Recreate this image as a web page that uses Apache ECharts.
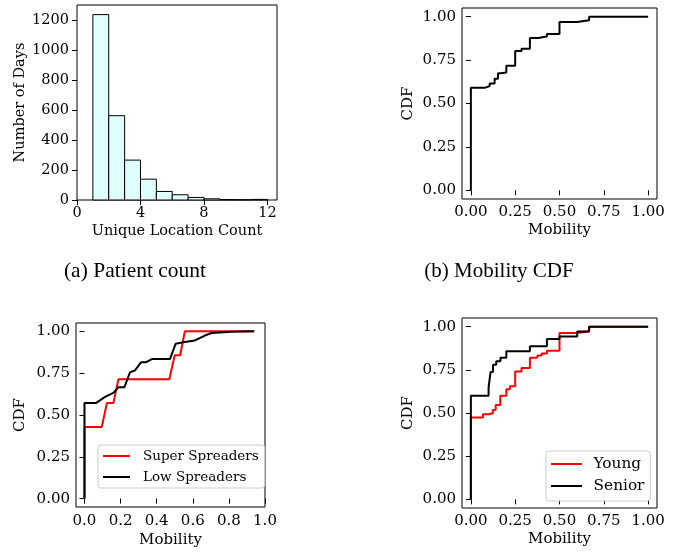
<!DOCTYPE html>
<html>
<head>
<meta charset="utf-8">
<script src="https://cdn.jsdelivr.net/npm/echarts@6/dist/echarts.min.js"></script>
<style>
  html, body { margin: 0; padding: 0; background: #fff; }
  #chart { width: 686px; height: 555px; }
</style>
</head>
<body>
<div id="chart"></div>
<script>
// ---- (a) unique locations per day (histogram) ----
const histEdges = [1, 2, 3, 4, 5, 6, 7, 8, 9, 10, 11, 12];
const histCounts = [1236, 562, 266, 139, 57, 35, 17, 8, 3, 2, 4];
const histXTicks = [0, 4, 8, 12];
const histYTicks = [0, 200, 400, 600, 800, 1000, 1200];

// ---- (b) mobility CDF, all patients (step) ----
const allX = [0, 0, 0.077, 0.106, 0.134, 0.153, 0.17, 0.2, 0.25, 0.286, 0.333, 0.379, 0.429, 0.5, 0.6, 0.667, 1.0];
const allY = [0, 0.59, 0.60, 0.615, 0.643, 0.674, 0.678, 0.718, 0.803, 0.816, 0.877, 0.886, 0.90, 0.969, 0.979, 1.0, 1.0];

// ---- (c) super vs low spreaders ----
const superX = [0, 0, 0.096, 0.124, 0.16, 0.188, 0.47, 0.50, 0.53, 0.556, 0.94];
const superY = [0, 0.429, 0.429, 0.571, 0.571, 0.714, 0.714, 0.857, 0.857, 1.0, 1.0];
const lowX = [0, 0, 0.063, 0.114, 0.16, 0.188, 0.221, 0.252, 0.28, 0.313, 0.339, 0.376, 0.474, 0.505, 0.556, 0.612, 0.667, 0.704, 0.814, 0.94];
const lowY = [0, 0.571, 0.571, 0.608, 0.632, 0.666, 0.666, 0.755, 0.767, 0.815, 0.815, 0.835, 0.835, 0.926, 0.936, 0.946, 0.975, 0.99, 0.998, 1.0];

// ---- (d) young vs senior (step) ----
const youngX = [0, 0, 0.068, 0.102, 0.124, 0.14, 0.166, 0.2, 0.22, 0.25, 0.286, 0.333, 0.375, 0.4, 0.429, 0.5, 0.6, 0.667, 1.0];
const youngY = [0, 0.474, 0.493, 0.499, 0.518, 0.547, 0.60, 0.638, 0.655, 0.74, 0.76, 0.82, 0.833, 0.845, 0.86, 0.963, 0.973, 1.0, 1.0];
const seniorX = [0, 0, 0.1, 0.111, 0.125, 0.143, 0.167, 0.2, 0.333, 0.429, 0.5, 0.6, 0.667, 1.0];
const seniorY = [0, 0.60, 0.648, 0.737, 0.78, 0.80, 0.82, 0.857, 0.886, 0.929, 0.943, 0.972, 1.0, 1.0];

const cdfTicks4 = [0, 0.25, 0.5, 0.75, 1.0];
const cdfTicks5 = [0, 0.2, 0.4, 0.6, 0.8, 1.0];

const FONT = "DejaVu Serif";
const pairs = (xs, ys) => xs.map((x, i) => [x, ys[i]]);

function axis(gi, o) {
  return {
    type: "value", gridIndex: gi, min: o.min, max: o.max,
    name: o.name, nameLocation: "middle", nameGap: o.gap,
    nameTextStyle: { fontFamily: FONT, fontSize: o.fs, color: "#000" },
    axisLine: { show: false },
    splitLine: { show: false },
    axisTick: { show: true, length: 5, customValues: o.ticks, lineStyle: { color: "#000", width: 1 } },
    axisLabel: {
      customValues: o.ticks, margin: o.margin, fontFamily: FONT, fontSize: o.fs, color: "#000",
      formatter: v => o.digits == null ? String(v) : v.toFixed(o.digits),
    },
  };
}

const gridBase = { show: true, borderColor: "#000", borderWidth: 1, backgroundColor: "transparent" };

const lineSeries = (name, data, color, xi, step) => ({
  name, type: "line", xAxisIndex: xi, yAxisIndex: xi, data,
  step: step ? "end" : false, showSymbol: false, symbol: "none",
  color, itemStyle: { color }, lineStyle: { color, width: 2 },
});

const chart = echarts.init(document.getElementById("chart"));
chart.setOption({
  animation: false,
  grid: [
    Object.assign({ left: 77, top: 5, width: 200, height: 195 }, gridBase),
    Object.assign({ left: 462, top: 8, width: 195, height: 191 }, gridBase),
    Object.assign({ left: 76, top: 323, width: 189, height: 184 }, gridBase),
    Object.assign({ left: 462, top: 318, width: 195, height: 190 }, gridBase),
  ],
  xAxis: [
    axis(0, { min: 0, max: 12.6, ticks: histXTicks, name: "Unique Location Count", gap: 24, fs: 14.5, margin: 6 }),
    axis(1, { min: -0.05, max: 1.05, ticks: cdfTicks4, digits: 2, name: "Mobility", gap: 24, fs: 15, margin: 6 }),
    axis(2, { min: -0.047, max: 1.0, ticks: cdfTicks5, digits: 1, name: "Mobility", gap: 26, fs: 15, margin: 7 }),
    axis(3, { min: -0.05, max: 1.05, ticks: cdfTicks4, digits: 2, name: "Mobility", gap: 24, fs: 15, margin: 6 }),
  ],
  yAxis: [
    axis(0, { min: 0, max: 1300, ticks: histYTicks, name: "Number of Days", gap: 48, fs: 14.5, margin: 8 }),
    axis(1, { min: -0.05, max: 1.05, ticks: cdfTicks4, digits: 2, name: "CDF", gap: 46, fs: 15, margin: 6 }),
    axis(2, { min: -0.05, max: 1.05, ticks: cdfTicks4, digits: 2, name: "CDF", gap: 48, fs: 15, margin: 6 }),
    axis(3, { min: -0.05, max: 1.05, ticks: cdfTicks4, digits: 2, name: "CDF", gap: 46, fs: 15, margin: 6 }),
  ],
  legend: [
    {
      data: ["Super Spreaders", "Low Spreaders"], orient: "vertical", left: 98, top: 445,
      icon: "rect", itemWidth: 27, itemHeight: 2, itemGap: 5,
      padding: [3, 6, 3, 5], borderColor: "#cccccc", borderWidth: 1, borderRadius: 3,
      backgroundColor: "rgba(255,255,255,0.8)",
      textStyle: { fontFamily: FONT, fontSize: 13.5, color: "#000", lineHeight: 16, padding: [0, 0, 0, 8] },
    },
    {
      data: ["Young", "Senior"], orient: "vertical", left: 546, top: 451,
      icon: "rect", itemWidth: 31, itemHeight: 2, itemGap: 4,
      padding: [4, 6, 6, 5], borderColor: "#cccccc", borderWidth: 1, borderRadius: 3,
      backgroundColor: "rgba(255,255,255,0.8)",
      textStyle: { fontFamily: FONT, fontSize: 15.3, color: "#000", lineHeight: 18, padding: [0, 0, 0, 6.6] },
    },
  ],
  graphic: [
    { type: "text", x: 135, y: 271, style: { text: "(a) Patient count", font: '21.5px "Liberation Serif"', fill: "#000", align: "center", verticalAlign: "middle" } },
    { type: "text", x: 499, y: 271, style: { text: "(b) Mobility CDF", font: '21px "Liberation Serif"', fill: "#000", align: "center", verticalAlign: "middle" } },
  ],
  series: [
    {
      type: "custom", xAxisIndex: 0, yAxisIndex: 0,
      data: histCounts.map((c, i) => [histEdges[i], histEdges[i + 1], c]),
      encode: { x: [0, 1], y: 2 },
      renderItem: (params, api) => {
        const p0 = api.coord([api.value(0), api.value(2)]);
        const p1 = api.coord([api.value(1), 0]);
        return {
          type: "rect",
          shape: { x: p0[0], y: p0[1], width: p1[0] - p0[0], height: p1[1] - p0[1] },
          style: { fill: "#e0ffff", stroke: "#000", lineWidth: 1 },
        };
      },
    },
    lineSeries("All", pairs(allX, allY), "#000000", 1, true),
    lineSeries("Super Spreaders", pairs(superX, superY), "#ff0000", 2, false),
    lineSeries("Low Spreaders", pairs(lowX, lowY), "#000000", 2, false),
    lineSeries("Young", pairs(youngX, youngY), "#ff0000", 3, true),
    lineSeries("Senior", pairs(seniorX, seniorY), "#000000", 3, true),
  ],
});
</script>
</body>
</html>
